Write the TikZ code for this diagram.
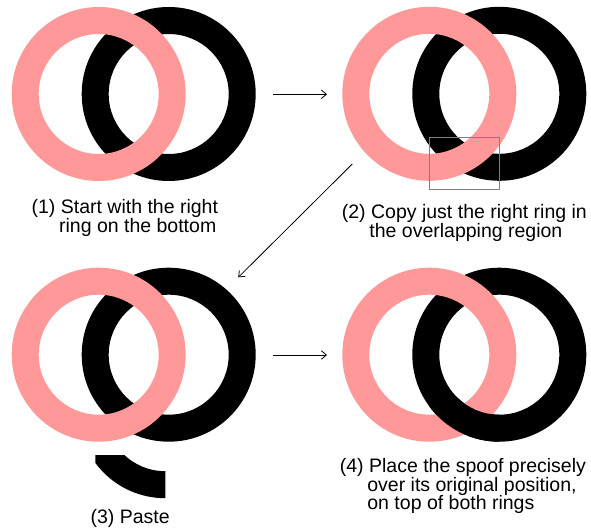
\documentclass[tikz,border=0pt]{standalone}
\usepackage{fontspec}
\setmainfont{Liberation Sans}
\usetikzlibrary{arrows.meta}
\definecolor{ringpink}{RGB}{255,153,153}
\definecolor{framegray}{RGB}{128,128,128}
% #1 = x of pink ring centre, #2 = y of both centres
\newcommand\myBlackRing[2]{\fill[blackring] (#1+70,#2) circle[radius=87bp] (#1+70,#2) circle[radius=60bp];}
\newcommand\myPinkRing[2]{\fill[pinkring] (#1,#2) circle[radius=87bp] (#1,#2) circle[radius=60bp];}
\newcommand\mySpoof[2]{%
  \begin{scope}
    \clip (#1,#2+44) rectangle (#1+70,#2+96);
    \myBlackRing{#1}{#2}
  \end{scope}}
\begin{document}
\begin{tikzpicture}[x=1bp,y=-1bp,
  pinkring/.style={fill=ringpink,even odd rule},
  blackring/.style={fill=black,even odd rule},
  caption/.style={anchor=base west,inner sep=0pt,align=left,
    font=\fontsize{19.5bp}{18.8bp}\selectfont},
  flow/.style={-{Straight Barb[length=5bp,width=8.5bp]},line width=0.8bp},
  copyframe/.style={draw=framegray,line width=1bp}]
\useasboundingbox (0,0) rectangle (591,531);

% panel 1
\myBlackRing{98.7}{94}
\myPinkRing{98.7}{94}
\node[caption] (cap1) at (31.4,232.5) {(1) Start with the right\\\hspace*{27.5bp}ring on the bottom};

% panel 2
\myBlackRing{429.3}{93.8}
\myPinkRing{429.3}{93.8}
\draw[copyframe] (429.7,137.7) rectangle (499,189.3);
\node[caption] (cap2) at (341.7,237.3) {(2) Copy just the right ring in\\\hspace*{27.5bp}the overlapping region};

% panel 3
\myBlackRing{98.7}{354.7}
\myPinkRing{98.7}{354.7}
\begin{scope}[shift={(-3.4,56.5)}]
  \mySpoof{98.7}{354.7}
\end{scope}
\node[caption] (cap3) at (90.4,523.3) {(3) Paste};

% panel 4
\myBlackRing{429.3}{354.7}
\myPinkRing{429.3}{354.7}
\mySpoof{429.3}{354.7}
\node[caption] (cap4) at (339.7,509.8) {(4) Place the spoof precisely\\\hspace*{27.5bp}over its original position,\\\hspace*{27.5bp}on top of both rings};

% arrows
\coordinate (a12s) at (273,94.3);
\coordinate (a12e) at (327,94.3);
\coordinate (a23s) at (352.3,164);
\coordinate (a23e) at (238.3,277.3);
\coordinate (a34s) at (273,355);
\coordinate (a34e) at (327,355);
\draw[flow] (a12s) -- (a12e);
\draw[flow] (a23s) -- (a23e);
\draw[flow] (a34s) -- (a34e);
\end{tikzpicture}
\end{document}
